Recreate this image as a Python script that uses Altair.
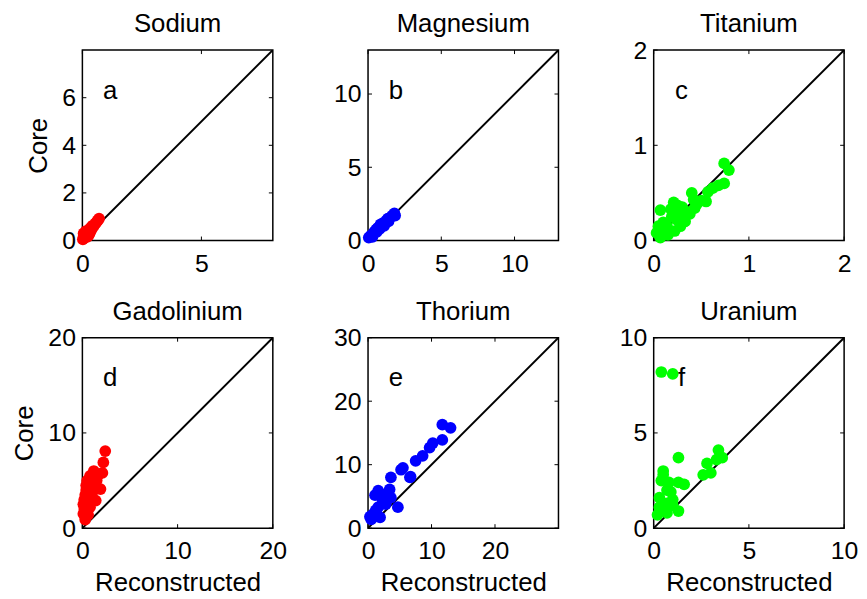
import altair as alt
import pandas as pd

# ---- data ----
na_x = [0.02,0.05,0.08,0.10,0.12,0.15,0.18,0.20,0.22,0.25,0.28,0.30,0.32,0.35,0.38,0.40,0.42,0.45,0.50,0.55,0.60,0.65,0.70,0.10,0.15,0.20,0.30,0.05,0.35,0.25]
na_y = [0.05,0.15,0.20,0.12,0.25,0.30,0.22,0.35,0.30,0.40,0.45,0.38,0.50,0.45,0.55,0.50,0.62,0.58,0.65,0.72,0.78,0.85,0.92,0.30,0.40,0.15,0.28,0.30,0.40,0.20]

mg_x = [0.05,0.15,0.25,0.35,0.45,0.55,0.65,0.75,0.85,0.95,1.05,1.15,1.25,1.35,1.5,1.65,1.8,1.85,0.5,0.8,1.1,0.3,0.6,1.0,1.4]
mg_y = [0.2,0.3,0.35,0.5,0.6,0.75,0.85,0.9,1.1,1.0,1.2,1.15,1.35,1.5,1.55,1.7,1.85,1.7,0.55,0.8,1.0,0.25,0.6,1.1,1.3]

ti_x = [0.74,0.79,0.74,0.68,0.57,0.40,0.55,0.43,0.42,0.21,0.07,0.27,0.19,0.31,0.10,0.07,0.07,0.24,0.14,0.03,0.30,0.35,0.25,0.18,0.12,0.05,0.62,0.50,0.45,0.28,0.22,0.15,0.33,0.38]
ti_y = [0.81,0.74,0.60,0.58,0.51,0.50,0.41,0.34,0.43,0.40,0.32,0.29,0.25,0.19,0.19,0.11,0.03,0.22,0.15,0.08,0.35,0.30,0.37,0.33,0.12,0.15,0.55,0.42,0.38,0.15,0.10,0.06,0.20,0.28]

gd_x = [2.4,2.2,2.1,1.2,0.8,0.5,1.9,1.2,0.3,0.6,0.1,0.8,0.1,0.3,0.6,1.0,1.4,1.5,0.2,0.4,0.9,1.1,0.5,0.7,0.2,0.3,1.6,0.4]
gd_y = [8.1,6.9,5.8,6.0,5.5,5.0,4.1,4.3,3.5,3.0,2.5,2.2,1.5,0.9,1.4,3.5,2.9,5.0,2.0,4.0,4.8,5.3,2.4,3.8,3.0,1.2,5.5,4.5]

th_x = [11.7,13.0,11.7,10.2,9.7,8.6,7.5,6.6,5.2,3.6,4.7,1.6,2.6,3.4,1.1,3.6,2.8,1.6,0.8,0.5,1.9,2.3,1.2,0.3,5.5,6.7]
th_y = [16.3,15.8,13.9,13.4,12.7,11.4,10.6,8.0,9.2,8.0,3.3,5.9,5.3,6.1,5.2,4.8,3.8,3.3,2.2,1.4,1.7,4.4,2.8,1.8,9.5,8.1]

u_x = [0.4,1.0,3.4,3.6,3.3,2.8,3.0,2.6,1.3,0.5,0.4,0.8,1.3,1.6,0.7,0.3,1.0,0.7,0.2,0.7,1.3,1.0,0.3,0.5,0.9]
u_y = [8.2,8.1,4.1,3.7,3.6,3.4,2.9,2.8,3.7,3.0,2.5,2.4,2.4,2.3,2.0,1.6,1.5,1.3,0.7,0.8,0.9,1.2,1.1,2.8,1.9]

names = ["Sodium", "Magnesium", "Titanium", "Gadolinium", "Thorium", "Uranium"]
letters = ["a", "b", "c", "d", "e", "f"]
colors = ["#ff0000", "#0000ff", "#00ff00", "#ff0000", "#0000ff", "#00ff00"]
limits = [8, 13, 2, 20, 30, 10]
xticks = [[0, 5], [0, 5, 10], [0, 1, 2], [0, 10, 20], [0, 10, 20], [0, 5, 10]]
yticks = [[0, 2, 4, 6], [0, 5, 10], [0, 1, 2], [0, 10, 20], [0, 10, 20, 30], [0, 5, 10]]
xs = [na_x, mg_x, ti_x, gd_x, th_x, u_x]
ys = [na_y, mg_y, ti_y, gd_y, th_y, u_y]

FONT = "Liberation Sans"
FS = 25
FT = 26
W = 192
H = 192


def panel(i):
    lim = limits[i]
    sx = alt.Scale(domain=[0, lim], nice=False, zero=False)
    sy = alt.Scale(domain=[0, lim], nice=False, zero=False)
    common = dict(ticks=False, tickSize=0, domain=False, grid=False, labelFlush=False,
                  labelOverlap=False, labelExpr="'' + datum.value",
                  labelFontSize=FS, labelFont=FONT, labelColor="black",
                  titleFontSize=FT, titleFont=FONT, titleFontWeight="normal",
                  titleColor="black")
    xaxis = alt.Axis(values=xticks[i], labelPadding=11, titlePadding=6, **common)
    yaxis = alt.Axis(values=yticks[i], labelPadding=7, titlePadding=10, **common)
    xtitle = "Reconstructed" if i >= 3 else ""
    ytitle = "Core" if i % 3 == 0 else ""
    df = pd.DataFrame({"x": xs[i], "y": ys[i]})
    pts = alt.Chart(df).mark_circle(size=140, opacity=1, color=colors[i]).encode(
        x=alt.X("x:Q", scale=sx, axis=xaxis, title=xtitle),
        y=alt.Y("y:Q", scale=sy, axis=yaxis, title=ytitle),
    )
    ldf = pd.DataFrame({"x": [0, lim], "y": [0, lim]})
    line = alt.Chart(ldf).mark_line(color="black", strokeWidth=2, clip=True).encode(
        x=alt.X("x:Q", scale=sx), y=alt.Y("y:Q", scale=sy))
    xt = pd.DataFrame({"t": xticks[i]})
    yt = pd.DataFrame({"t": yticks[i]})
    xtb = alt.Chart(xt).mark_rule(color="black", strokeWidth=1).encode(
        x=alt.X("t:Q", scale=sx), y=alt.value(H), y2=alt.value(H - 4))
    xtt = alt.Chart(xt).mark_rule(color="black", strokeWidth=1).encode(
        x=alt.X("t:Q", scale=sx), y=alt.value(0), y2=alt.value(4))
    ytl = alt.Chart(yt).mark_rule(color="black", strokeWidth=1).encode(
        y=alt.Y("t:Q", scale=sy), x=alt.value(0), x2=alt.value(4))
    ytr = alt.Chart(yt).mark_rule(color="black", strokeWidth=1).encode(
        y=alt.Y("t:Q", scale=sy), x=alt.value(W - 4), x2=alt.value(W))
    txt = alt.Chart(pd.DataFrame({"l": [letters[i]]})).mark_text(
        fontSize=FT, font=FONT, color="black", align="center", baseline="middle"
    ).encode(x=alt.value(28), y=alt.value(41), text="l:N")
    ttl = alt.Chart(pd.DataFrame({"l": [names[i]]})).mark_text(
        fontSize=FT, font=FONT, color="black", align="center", baseline="alphabetic"
    ).encode(x=alt.value(W / 2), y=alt.value(-18), text="l:N")
    return alt.layer(xtb, xtt, ytl, ytr, line, pts, txt, ttl).properties(width=W, height=H)


chart = alt.concat(*[panel(i) for i in range(6)], columns=3,
                   spacing={"row": 98, "column": 96}, bounds="flush").properties(
    padding={"left": 3, "top": 0, "right": 0, "bottom": 0}
).configure_view(stroke="black", strokeWidth=1.5)

chart.save("out.html", embed_options={"renderer": "svg", "actions": False})
